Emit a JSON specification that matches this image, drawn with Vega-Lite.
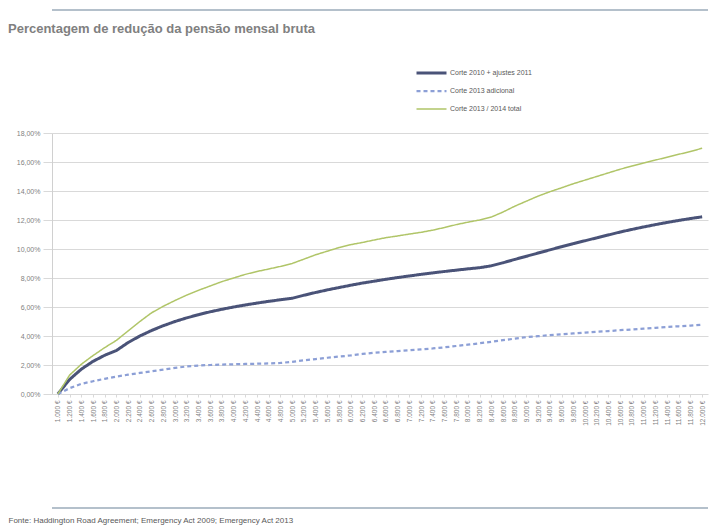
{
  "$schema": "https://vega.github.io/schema/vega-lite/v6.json",
  "width": 656,
  "height": 261,
  "autosize": {"type": "none"},
  "padding": {"left": 52, "top": 133, "right": 2, "bottom": 136},
  "background": "white",
  "config": {"view": {"stroke": null}, "font": "Liberation Sans"},
  "title": {
    "text": "Percentagem de redução da pensão mensal bruta",
    "anchor": "start",
    "frame": "group",
    "font": "Liberation Sans",
    "fontSize": 13,
    "fontWeight": "bold",
    "color": "#808080",
    "dx": -44,
    "dy": 31
  },
  "data": {
    "values": [
      {"p": "1.000 €", "base": 0, "adicional": 0, "total": 0},
      {"p": "1.200 €", "base": 1.0, "adicional": 0.4, "total": 1.3},
      {"p": "1.400 €", "base": 1.71, "adicional": 0.7, "total": 2.05},
      {"p": "1.600 €", "base": 2.25, "adicional": 0.88, "total": 2.65},
      {"p": "1.800 €", "base": 2.67, "adicional": 1.05, "total": 3.2},
      {"p": "2.000 €", "base": 3.0, "adicional": 1.2, "total": 3.7},
      {"p": "2.200 €", "base": 3.55, "adicional": 1.33, "total": 4.35},
      {"p": "2.400 €", "base": 4.0, "adicional": 1.45, "total": 5.0},
      {"p": "2.600 €", "base": 4.38, "adicional": 1.57, "total": 5.6},
      {"p": "2.800 €", "base": 4.71, "adicional": 1.68, "total": 6.05},
      {"p": "3.000 €", "base": 5.0, "adicional": 1.8, "total": 6.45},
      {"p": "3.200 €", "base": 5.25, "adicional": 1.9, "total": 6.82},
      {"p": "3.400 €", "base": 5.47, "adicional": 1.96, "total": 7.15},
      {"p": "3.600 €", "base": 5.67, "adicional": 2.0, "total": 7.45},
      {"p": "3.800 €", "base": 5.84, "adicional": 2.03, "total": 7.75},
      {"p": "4.000 €", "base": 6.0, "adicional": 2.05, "total": 8.0},
      {"p": "4.200 €", "base": 6.14, "adicional": 2.07, "total": 8.25},
      {"p": "4.400 €", "base": 6.27, "adicional": 2.09, "total": 8.45},
      {"p": "4.600 €", "base": 6.39, "adicional": 2.11, "total": 8.62},
      {"p": "4.800 €", "base": 6.5, "adicional": 2.14, "total": 8.8},
      {"p": "5.000 €", "base": 6.6, "adicional": 2.22, "total": 9.0},
      {"p": "5.200 €", "base": 6.81, "adicional": 2.32, "total": 9.3},
      {"p": "5.400 €", "base": 7.0, "adicional": 2.41, "total": 9.6},
      {"p": "5.600 €", "base": 7.18, "adicional": 2.5, "total": 9.85},
      {"p": "5.800 €", "base": 7.34, "adicional": 2.58, "total": 10.1},
      {"p": "6.000 €", "base": 7.5, "adicional": 2.66, "total": 10.3},
      {"p": "6.200 €", "base": 7.65, "adicional": 2.76, "total": 10.45},
      {"p": "6.400 €", "base": 7.78, "adicional": 2.84, "total": 10.62},
      {"p": "6.600 €", "base": 7.91, "adicional": 2.9, "total": 10.78},
      {"p": "6.800 €", "base": 8.03, "adicional": 2.96, "total": 10.9},
      {"p": "7.000 €", "base": 8.14, "adicional": 3.02, "total": 11.03},
      {"p": "7.200 €", "base": 8.25, "adicional": 3.08, "total": 11.15},
      {"p": "7.400 €", "base": 8.35, "adicional": 3.14, "total": 11.3},
      {"p": "7.600 €", "base": 8.45, "adicional": 3.22, "total": 11.48},
      {"p": "7.800 €", "base": 8.54, "adicional": 3.31, "total": 11.68},
      {"p": "8.000 €", "base": 8.63, "adicional": 3.4, "total": 11.85},
      {"p": "8.200 €", "base": 8.71, "adicional": 3.5, "total": 12.0},
      {"p": "8.400 €", "base": 8.84, "adicional": 3.6, "total": 12.2},
      {"p": "8.600 €", "base": 9.05, "adicional": 3.71, "total": 12.55},
      {"p": "8.800 €", "base": 9.28, "adicional": 3.82, "total": 12.95},
      {"p": "9.000 €", "base": 9.5, "adicional": 3.92, "total": 13.3},
      {"p": "9.200 €", "base": 9.72, "adicional": 3.99, "total": 13.65},
      {"p": "9.400 €", "base": 9.94, "adicional": 4.06, "total": 13.95},
      {"p": "9.600 €", "base": 10.16, "adicional": 4.12, "total": 14.22},
      {"p": "9.800 €", "base": 10.37, "adicional": 4.18, "total": 14.5},
      {"p": "10.000 €", "base": 10.57, "adicional": 4.24, "total": 14.75},
      {"p": "10.200 €", "base": 10.77, "adicional": 4.29, "total": 15.0},
      {"p": "10.400 €", "base": 10.97, "adicional": 4.34, "total": 15.25},
      {"p": "10.600 €", "base": 11.17, "adicional": 4.4, "total": 15.5},
      {"p": "10.800 €", "base": 11.35, "adicional": 4.45, "total": 15.72},
      {"p": "11.000 €", "base": 11.52, "adicional": 4.51, "total": 15.93},
      {"p": "11.200 €", "base": 11.68, "adicional": 4.56, "total": 16.13},
      {"p": "11.400 €", "base": 11.83, "adicional": 4.62, "total": 16.33},
      {"p": "11.600 €", "base": 11.97, "adicional": 4.67, "total": 16.53},
      {"p": "11.800 €", "base": 12.1, "adicional": 4.72, "total": 16.72},
      {"p": "12.000 €", "base": 12.22, "adicional": 4.78, "total": 16.95}
    ]
  },
  "layer": [
    {
      "transform": [{"fold": ["base", "adicional", "total"], "as": ["serie", "v"]}],
      "mark": {"type": "line", "strokeJoin": "round", "strokeCap": "butt"},
      "encoding": {
        "x": {
          "field": "p",
          "type": "ordinal",
          "sort": null,
          "scale": {"type": "point", "padding": 0.5},
          "axis": {
            "title": "Fonte: Haddington Road Agreement; Emergency Act 2009; Emergency Act 2013",
            "titleAnchor": "start",
            "titleAlign": "left",
            "titleBaseline": "middle",
            "titleX": -44,
            "titleY": 126,
            "titleFontSize": 8,
            "titleFontWeight": "normal",
            "titleColor": "#595959",
            "labelAngle": -90,
            "labelFontSize": 6.5,
            "labelColor": "#7f7f7f",
            "labelPadding": 3,
            "labelOverlap": false,
            "domain": false,
            "ticks": true,
            "tickSize": 3,
            "tickColor": "#d9d9d9",
            "grid": false
          }
        },
        "y": {
          "field": "v",
          "type": "quantitative",
          "scale": {"domain": [0, 18], "nice": false},
          "axis": {
            "title": null,
            "values": [0, 2, 4, 6, 8, 10, 12, 14, 16, 18],
            "labelExpr": "replace(format(datum.value, '.2f'), '.', ',') + '%'",
            "labelFontSize": 7,
            "labelColor": "#7f7f7f",
            "labelPadding": 3,
            "labelOverlap": false,
            "tickSize": 9,
            "tickColor": "#d9d9d9",
            "gridColor": "#d9d9d9",
            "domainColor": "#d0d0d0"
          }
        },
        "color": {
          "field": "serie",
          "type": "nominal",
          "scale": {"domain": ["base", "adicional", "total"], "range": ["#4a5378", "#8c9fd6", "#b0c568"]},
          "legend": {
            "title": null,
            "orient": "none",
            "legendX": 363,
            "legendY": -68,
            "direction": "vertical",
            "symbolType": "stroke",
            "symbolSize": 900,
            "clipHeight": 16,
            "labelFontSize": 7,
            "labelColor": "#595959",
            "labelOffset": 2,
            "labelExpr": "datum.value == 'base' ? 'Corte 2010 + ajustes 2011' : datum.value == 'adicional' ? 'Corte 2013 adicional' : 'Corte 2013 / 2014 total'"
          }
        },
        "strokeDash": {
          "field": "serie",
          "type": "nominal",
          "scale": {"domain": ["base", "adicional", "total"], "range": [[1, 0], [4, 3], [1, 0]]},
          "legend": {"title": null}
        },
        "strokeWidth": {
          "field": "serie",
          "type": "nominal",
          "scale": {"domain": ["base", "adicional", "total"], "range": [3, 1.5, 2]},
          "legend": {"title": null}
        }
      }
    },
    {
      "data": {"values": [{"linha": "topo", "v": 26.48}, {"linha": "base", "v": -7.86}]},
      "mark": {"type": "rule", "color": "#b4c0cb", "strokeWidth": 2},
      "encoding": {
        "y": {
          "field": "v",
          "type": "quantitative",
          "scale": {"domain": [0, 18], "nice": false},
          "axis": {
            "title": null,
            "values": [0, 2, 4, 6, 8, 10, 12, 14, 16, 18],
            "labelExpr": "replace(format(datum.value, '.2f'), '.', ',') + '%'",
            "labelFontSize": 7,
            "labelColor": "#7f7f7f",
            "labelPadding": 3,
            "labelOverlap": false,
            "tickSize": 9,
            "tickColor": "#d9d9d9",
            "gridColor": "#d9d9d9",
            "domainColor": "#d0d0d0"
          }
        }
      }
    }
  ]
}
